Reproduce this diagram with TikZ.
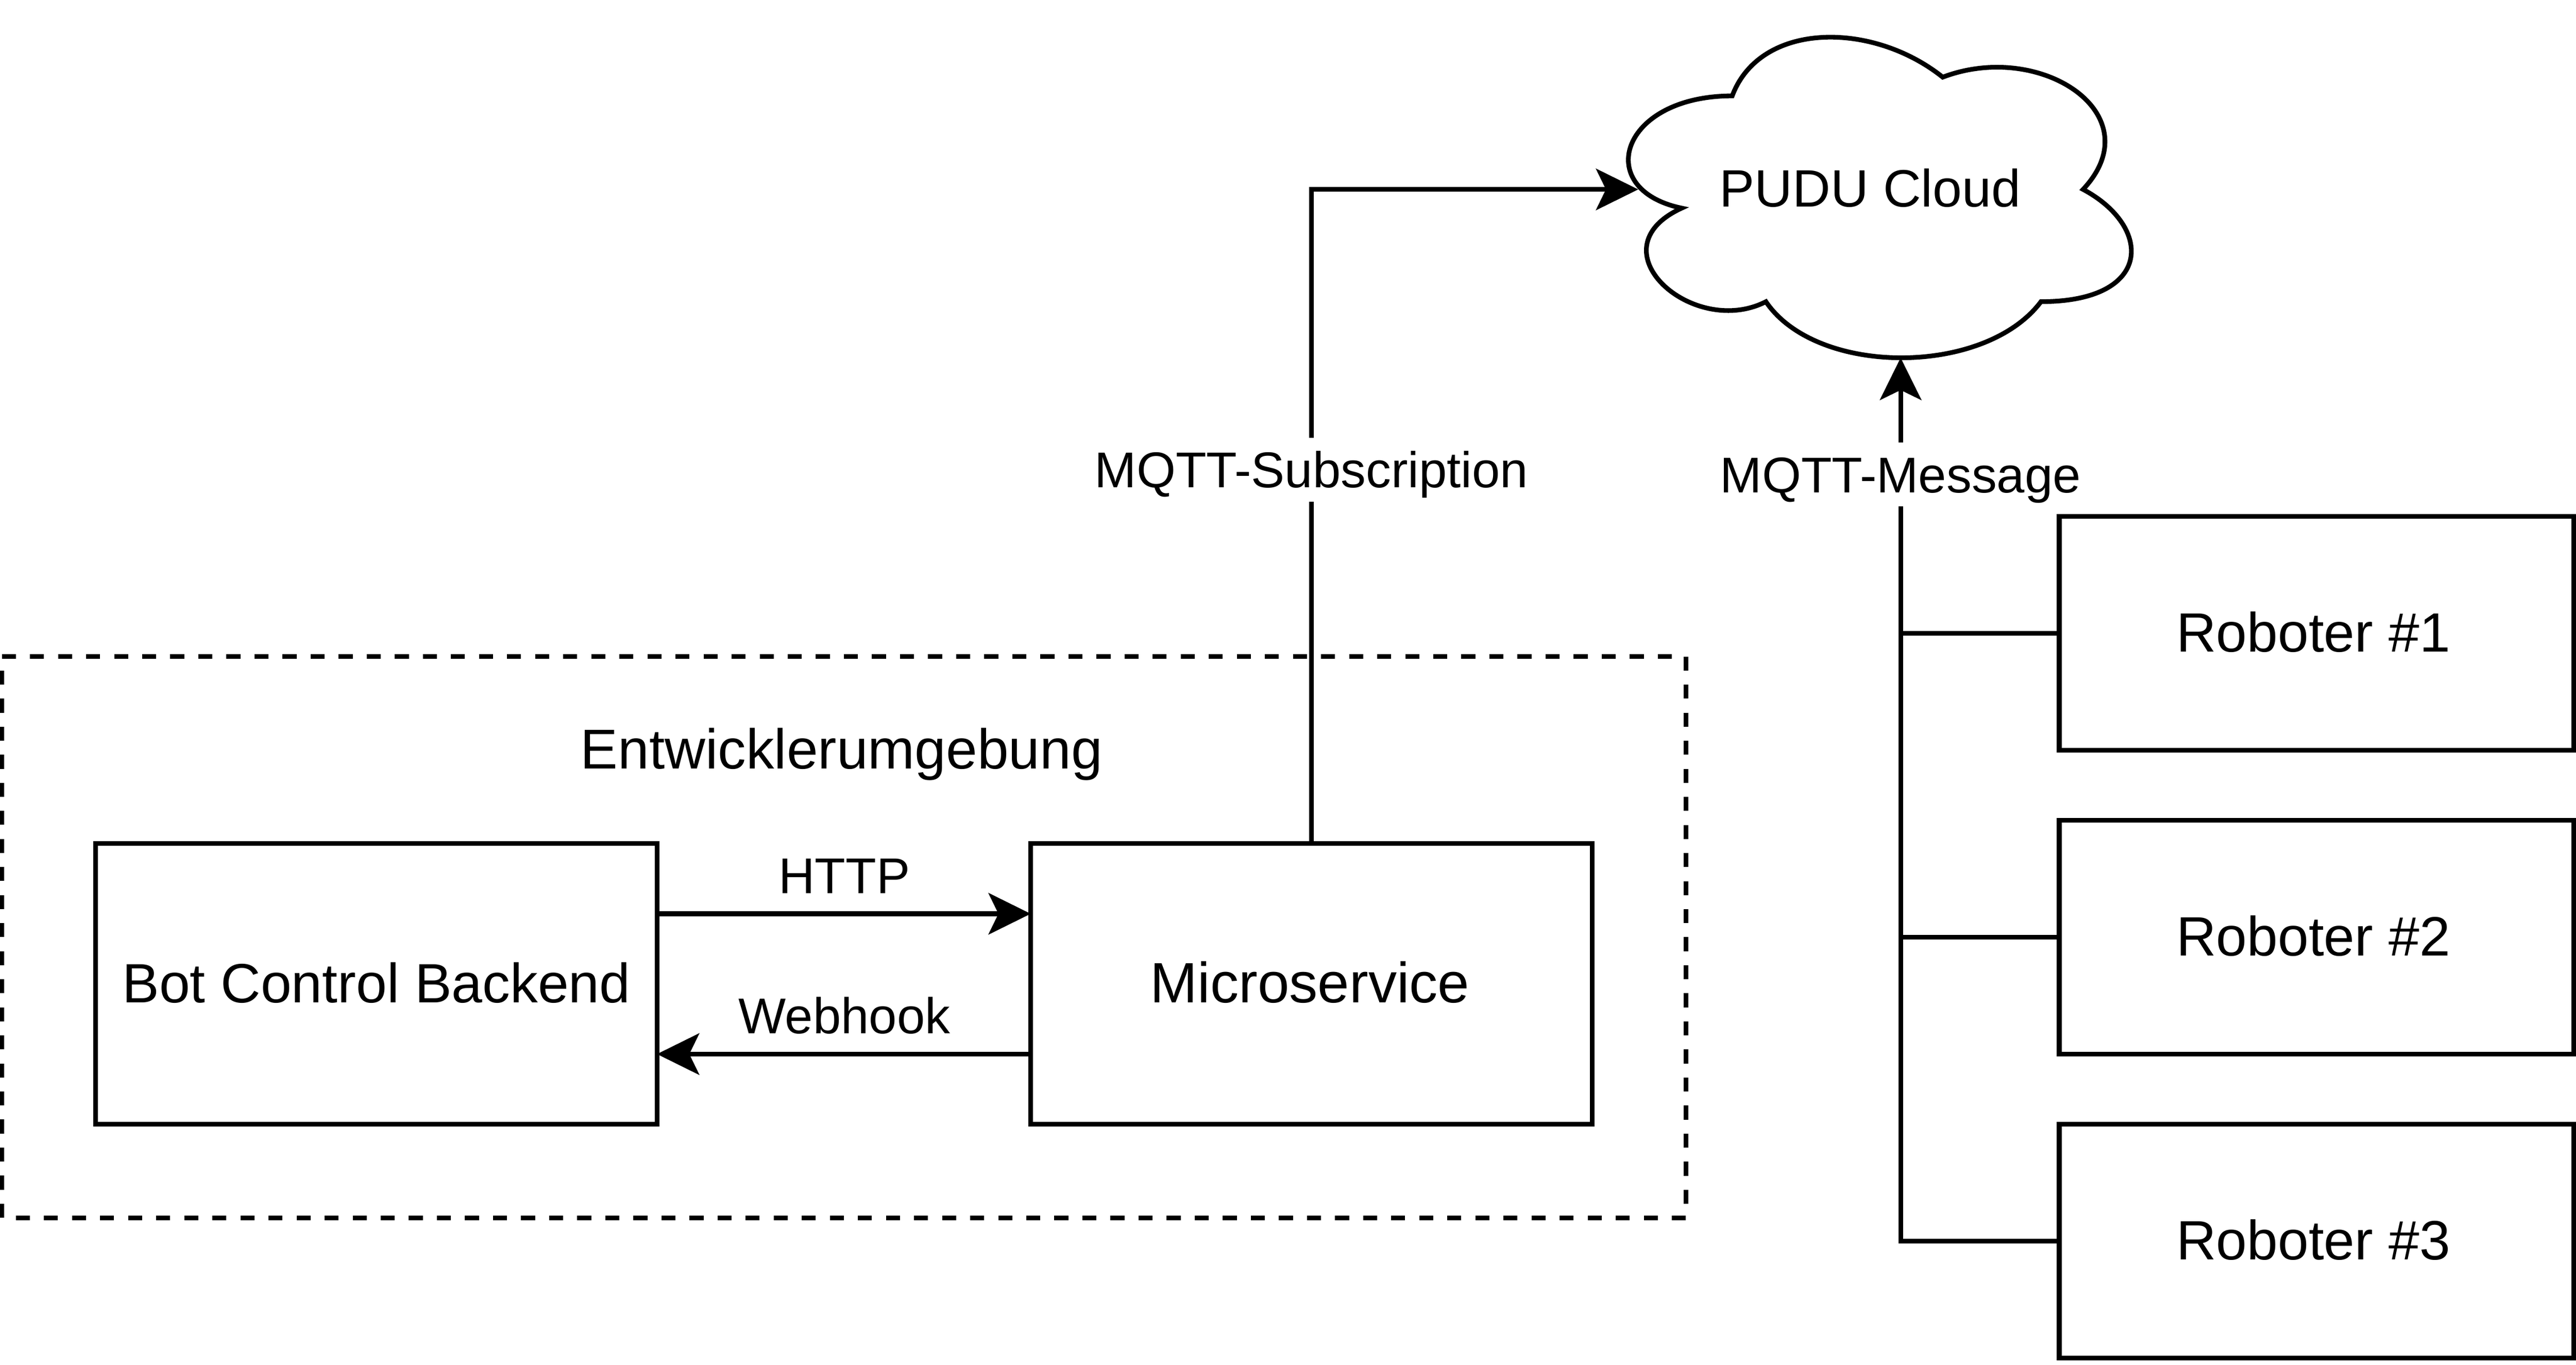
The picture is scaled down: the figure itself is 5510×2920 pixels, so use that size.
\documentclass[tikz,border=0pt]{standalone}
\usepackage{fontspec}
\setmainfont{Liberation Sans}
\usetikzlibrary{arrows.meta}
\tikzset{
  ln/.style={line width=0.1cm,line join=miter,line cap=butt},
  arr/.style={ln,-{Stealth[length=0.91cm,width=0.9cm,inset=0.22cm,line width=0pt]}},
  boxbig/.style={ln,draw=black,fill=white,rectangle,inner sep=0pt,outer sep=0pt,align=center,text height=1.05cm,text depth=0.26cm,font=\fontsize{33.7pt}{40pt}\selectfont},
  lab/.style={inner sep=0pt,outer sep=0pt,text height=1.07cm,text depth=0.30cm,font=\fontsize{30.6pt}{36pt}\selectfont},
  labw/.style={lab,fill=white,inner xsep=0pt},
  envbox/.style={ln,dash pattern=on 0.3cm off 0.3cm},
}
\begin{document}
\begin{tikzpicture}[x=0.01cm,y=-0.01cm]
\useasboundingbox (0,0) rectangle (5510,2920);
% environment frame
\node[inner sep=0pt,outer sep=0pt,minimum width=36cm,minimum height=12cm] (env) at (1805,2005) {};
\draw[envbox] (env.north west) -- (env.north east) -- (env.south east) -- (env.south west) -- cycle;
\node[lab,font=\fontsize{34.2pt}{40pt}\selectfont] (envlabel) at (1800,1606) {Entwicklerumgebung};
% boxes
\node[boxbig,minimum width=12cm,minimum height=6cm] (bcb) at (805,2105) {Bot Control Backend};
\node[boxbig,minimum width=12cm,minimum height=6cm,font=\fontsize{34.6pt}{40pt}\selectfont] (ms) at (2805,2105) {Microservice\kern0.06cm};
\node[boxbig,minimum width=11cm,minimum height=5cm] (r1) at (4955,1355) {Roboter \#1\kern0.14cm};
\node[boxbig,minimum width=11cm,minimum height=5cm] (r2) at (4955,2005) {Roboter \#2\kern0.14cm};
\node[boxbig,minimum width=11cm,minimum height=5cm] (r3) at (4955,2655) {Roboter \#3\kern0.14cm};
% cloud
\begin{scope}[shift={(3405,5)},x=12cm,y=-8cm]
\draw[ln] (0.25,0.25) .. controls (0.05,0.25) and (0,0.5) .. (0.16,0.55)
  .. controls (0,0.66) and (0.18,0.9) .. (0.31,0.8)
  .. controls (0.4,1) and (0.7,1) .. (0.8,0.8)
  .. controls (1,0.8) and (1,0.6) .. (0.875,0.5)
  .. controls (1,0.3) and (0.8,0.1) .. (0.625,0.2)
  .. controls (0.5,0.05) and (0.3,0.05) .. (0.25,0.25) -- cycle;
\coordinate (cloudW) at (0.0825,0.5);
\coordinate (cloudS) at (0.55,0.95);
\end{scope}
\node[inner sep=0pt,outer sep=0pt,text height=1.1cm,text depth=0.25cm,font=\fontsize{32pt}{38pt}\selectfont] (cloud) at (4000,400) {PUDU Cloud};
% connectors
\draw[arr] ([yshift=-1.5cm]bcb.north east) -- ([yshift=-1.5cm]ms.north west);
\draw[arr] ([yshift=1.5cm]ms.south west) -- ([yshift=1.5cm]bcb.south east);
\draw[arr] (ms.north) |- (cloudW);
\draw[arr] (r3.west) -| (cloudS);
\draw[ln] (r1.west) -- (r1.west -| cloudS);
\draw[ln] (r2.west) -- (r2.west -| cloudS);
% labels
\node[lab] (http) at (1806,1873) {HTTP};
\node[lab] (web) at (1806,2173) {Webhook};
\node[labw] (sub) at (2805,1005) {MQTT-Subscription};
\node[labw] (msg) at (4065,1015) {MQTT-Message};
\end{tikzpicture}
\end{document}
